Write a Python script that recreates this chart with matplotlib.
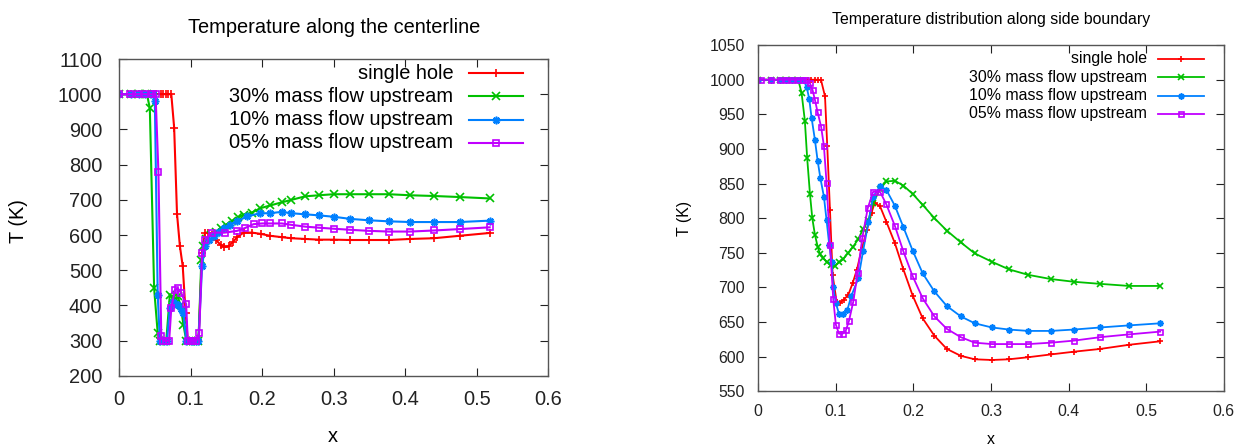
import matplotlib
matplotlib.use('Agg')
import matplotlib.pyplot as plt

plt.rcParams['font.family'] = ['Liberation Sans', 'DejaVu Sans']

# labels and colours (gnuplot defaults)
labels = ['single hole', '30% mass flow upstream', '10% mass flow upstream', '05% mass flow upstream']
colors = ['#ff0000', '#00c000', '#0080ff', '#c000ff']
markers = ['+', 'x', (8, 2, 0), 's']

# ---- centerline data (left plot) ----
c_red_x = [0, 0.017, 0.028, 0.036, 0.044, 0.051, 0.058, 0.062, 0.066, 0.069, 0.073, 0.077, 0.081,
           0.085, 0.089, 0.093, 0.096, 0.100, 0.104, 0.108, 0.111, 0.116, 0.120, 0.125, 0.130,
           0.136, 0.142, 0.147, 0.153, 0.159, 0.165, 0.174, 0.186, 0.199, 0.211, 0.2275, 0.241,
           0.26, 0.279, 0.30, 0.323, 0.349, 0.377, 0.407, 0.44, 0.476, 0.518]
c_red_y = [1000, 1000, 1000, 1000, 1000, 1000, 1000, 1000, 1000, 1000, 1000, 905, 660,
           569, 511, 380, 300, 300, 300, 300, 300, 549, 606, 607, 600,
           585, 572, 566, 568, 580, 594, 607, 607, 603, 598, 594, 591,
           589, 587, 587, 586, 586, 586, 589, 591, 598, 606]

c_grn_x = [0, 0.017, 0.028, 0.036, 0.039, 0.043, 0.049, 0.054, 0.057, 0.062, 0.066, 0.071,
           0.075, 0.079, 0.082, 0.086, 0.090, 0.094, 0.100, 0.104, 0.108, 0.111, 0.115, 0.118,
           0.122, 0.128, 0.135, 0.142, 0.150, 0.158, 0.166, 0.174, 0.186, 0.197, 0.211, 0.2275,
           0.241, 0.26, 0.279, 0.30, 0.323, 0.349, 0.377, 0.407, 0.44, 0.476, 0.518]
c_grn_y = [1000, 1000, 1000, 1000, 1000, 960, 449, 322, 300, 300, 300, 431,
           420, 418, 426, 400, 345, 300, 300, 300, 300, 300, 530, 570,
           590, 600, 610, 620, 630, 640, 650, 658, 664, 676, 684, 693,
           700, 710, 713, 716, 716, 716, 716, 713, 711, 708, 704]

c_blu_x = [0, 0.017, 0.028, 0.036, 0.044, 0.047, 0.050, 0.054, 0.057, 0.063, 0.067, 0.071,
           0.075, 0.079, 0.082, 0.087, 0.090, 0.094, 0.100, 0.104, 0.108, 0.111, 0.116, 0.120,
           0.126, 0.132, 0.139, 0.146, 0.155, 0.165, 0.179, 0.197, 0.211, 0.2275, 0.241, 0.26,
           0.279, 0.30, 0.323, 0.349, 0.377, 0.407, 0.44, 0.476, 0.518]
c_blu_y = [1000, 1000, 1000, 1000, 1000, 1000, 981, 431, 300, 300, 300, 393,
           410, 405, 402, 390, 379, 300, 300, 300, 300, 300, 511, 568,
           585, 596, 608, 620, 630, 639, 653, 662, 662, 666, 662, 659,
           656, 652, 646, 642, 639, 637, 637, 637, 641]

c_pur_x = [0, 0.015, 0.027, 0.036, 0.046, 0.051, 0.055, 0.059, 0.062, 0.066, 0.070, 0.073,
           0.078, 0.082, 0.087, 0.0937, 0.096, 0.100, 0.104, 0.108, 0.112, 0.116, 0.120, 0.130,
           0.148, 0.165, 0.176, 0.188, 0.20, 0.211, 0.2275, 0.241, 0.26, 0.279, 0.30, 0.323,
           0.349, 0.377, 0.407, 0.44, 0.476, 0.518]
c_pur_y = [1000, 1000, 1000, 1000, 1000, 1000, 779, 312, 300, 300, 300, 393,
           444, 449, 435, 404, 300, 300, 300, 300, 322, 549, 587, 607,
           607, 612, 620, 631, 633, 633, 633, 629, 624, 621, 618, 615,
           612, 610, 610, 613, 617, 622]

# ---- side boundary data (right plot) ----
s_red_x = [0, 0.017, 0.028, 0.036, 0.044, 0.051, 0.058, 0.064, 0.068, 0.073, 0.077, 0.081,
           0.086, 0.0889, 0.0924, 0.0958, 0.101, 0.105, 0.110, 0.116, 0.1216, 0.127, 0.133,
           0.140, 0.146, 0.150, 0.157, 0.165, 0.176, 0.187, 0.199, 0.212, 0.227, 0.243, 0.261,
           0.279, 0.301, 0.323, 0.348, 0.377, 0.407, 0.441, 0.478, 0.518]
s_red_y = [1000, 1000, 1000, 1000, 1000, 1000, 1000, 1000, 1000, 1000, 1000, 999,
           976, 904, 812, 718, 679, 677, 682, 689, 706, 725, 754,
           783, 808, 822, 817, 795, 764, 726, 688, 655, 630, 611, 601,
           596, 595, 596, 599, 603, 607, 611, 617, 622]

s_grn_x = [0, 0.017, 0.028, 0.036, 0.044, 0.0515, 0.0558, 0.060, 0.063, 0.0666, 0.0696, 0.073,
           0.0765, 0.0795, 0.0838, 0.088, 0.0932, 0.0988, 0.104, 0.1095, 0.116, 0.1224, 0.129,
           0.135, 0.142, 0.148, 0.157, 0.165, 0.176, 0.187, 0.199, 0.212, 0.227, 0.243, 0.261,
           0.279, 0.301, 0.323, 0.348, 0.377, 0.407, 0.441, 0.478, 0.518]
s_grn_y = [1000, 1000, 1000, 1000, 1000, 1000, 981, 941, 887, 835, 800, 776,
           759, 748, 742, 737, 732, 731, 736, 741, 750, 759, 770,
           784, 797, 822, 842, 853, 854, 847, 835, 819, 800, 782, 765,
           749, 737, 726, 718, 712, 708, 705, 702, 702]

s_blu_x = [0, 0.017, 0.028, 0.036, 0.044, 0.051, 0.058, 0.0623, 0.0657, 0.0687, 0.073, 0.0765,
           0.080, 0.0846, 0.088, 0.0915, 0.0945, 0.0966, 0.100, 0.104, 0.1095, 0.1147, 0.120,
           0.129, 0.135, 0.142, 0.148, 0.157, 0.165, 0.176, 0.187, 0.199, 0.212, 0.227, 0.243,
           0.261, 0.279, 0.301, 0.323, 0.348, 0.377, 0.407, 0.441, 0.478, 0.518]
s_blu_y = [1000, 1000, 1000, 1000, 1000, 1000, 1000, 990, 972, 945, 913, 883,
           858, 831, 797, 761, 737, 700, 677, 662, 662, 667, 688,
           713, 752, 794, 831, 846, 841, 818, 787, 753, 720, 694, 673,
           658, 648, 642, 639, 637, 637, 639, 642, 645, 648]

s_pur_x = [0.003, 0.017, 0.028, 0.036, 0.044, 0.051, 0.058, 0.062, 0.0666, 0.070, 0.073, 0.0765,
           0.081, 0.0846, 0.088, 0.0924, 0.0966, 0.100, 0.104, 0.1087, 0.113, 0.117, 0.1224,
           0.128, 0.134, 0.141, 0.148, 0.157, 0.165, 0.176, 0.187, 0.199, 0.212, 0.227, 0.243,
           0.261, 0.279, 0.301, 0.323, 0.348, 0.377, 0.407, 0.441, 0.478, 0.518]
s_pur_y = [1000, 1000, 1000, 1000, 1000, 1000, 1000, 1000, 995, 985, 971, 953,
           932, 904, 851, 761, 683, 646, 633, 633, 638, 652, 679,
           720, 771, 814, 838, 838, 820, 789, 752, 716, 684, 658, 640,
           628, 620, 618, 618, 618, 620, 623, 628, 632, 636]

fig = plt.figure(figsize=(12.48, 4.47), dpi=100)
ax1 = fig.add_axes([0.0954, 0.159, 0.344, 0.709])
ax2 = fig.add_axes([0.6076, 0.125, 0.373, 0.774])


def draw(ax, xs, ys, lw, ms, fs, pad_x, pad_y, leg):
    for i in range(4):
        mfc = 'none' if markers[i] == 's' else colors[i]
        size = ms * 0.8 if markers[i] == 's' else ms
        ax.plot(xs[i], ys[i], color=colors[i], lw=lw, marker=markers[i], ms=size,
                mfc=mfc, mec=colors[i], mew=1.2)
    # gnuplot style key, text right aligned
    tx, lx0, lx1, y0, dy = leg
    for i in range(4):
        y = y0 - i * dy
        mfc = 'none' if markers[i] == 's' else colors[i]
        size = ms * 0.8 if markers[i] == 's' else ms
        ax.text(tx, y, labels[i], ha='right', va='center', fontsize=fs, transform=ax.transAxes)
        ax.plot([lx0, lx1], [y, y], color=colors[i], lw=lw, transform=ax.transAxes, clip_on=False)
        ax.plot([(lx0 + lx1) / 2], [y], color=colors[i], marker=markers[i], ms=size,
                mfc=mfc, mec=colors[i], mew=1.2, transform=ax.transAxes, clip_on=False)
    ax.set_xlim(0, 0.6)
    ax.set_xticks([0, 0.1, 0.2, 0.3, 0.4, 0.5, 0.6])
    ax.set_xticklabels(['0', '0.1', '0.2', '0.3', '0.4', '0.5', '0.6'])
    ax.tick_params(direction='in', length=6, width=0.8, top=True, right=True,
                   labelsize=fs, colors='#222222')
    ax.tick_params(axis='x', pad=pad_x)
    ax.tick_params(axis='y', pad=pad_y)
    for s in ax.spines.values():
        s.set_color('#555555')
        s.set_linewidth(1.0)


fs1 = 14.4
fs2 = 11.4

draw(ax1, [c_red_x, c_grn_x, c_blu_x, c_pur_x], [c_red_y, c_grn_y, c_blu_y, c_pur_y],
     1.5, 5.5, fs1, 10, 12, (0.779, 0.814, 0.942, 0.955, 0.073))
ax1.set_ylim(200, 1100)
ax1.set_yticks(range(200, 1101, 100))

draw(ax2, [s_red_x, s_grn_x, s_blu_x, s_pur_x], [s_red_y, s_grn_y, s_blu_y, s_pur_y],
     1.3, 4.5, fs2, 9, 9.5, (0.834, 0.858, 0.957, 0.960, 0.053))
ax2.set_ylim(550, 1050)
ax2.set_yticks(range(550, 1051, 50))

# titles and axis labels
ax1.set_title('Temperature along the centerline', fontsize=fs1, pad=19)
ax2.set_title('Temperature distribution along side boundary', fontsize=fs2, pad=15)
fig.text(333 / 1248, 1 - 436 / 447, 'x', ha='center', va='center', fontsize=fs1)
fig.text(991 / 1248, 1 - 439 / 447, 'x', ha='center', va='center', fontsize=fs2)
fig.text(19 / 1248, 1 - 221 / 447, 'T (K)', ha='center', va='center', rotation=90, fontsize=fs1)
fig.text(684 / 1248, 1 - 218 / 447, 'T (K)', ha='center', va='center', rotation=90, fontsize=fs2)

fig.savefig('out.png', dpi=100, facecolor='white')
